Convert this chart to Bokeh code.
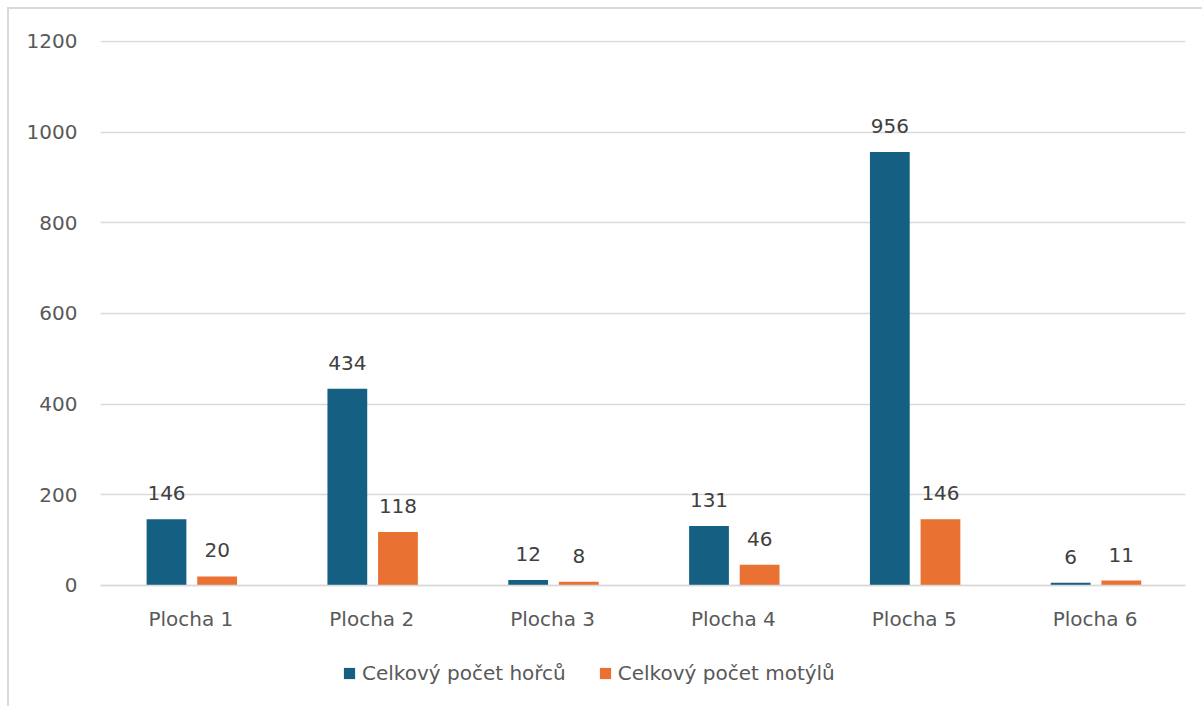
from bokeh.plotting import figure
from bokeh.models import ColumnDataSource, FactorRange, Legend, LegendItem, Range1d, FixedTicker
from bokeh.transform import dodge
from bokeh.core.properties import value
from bokeh.embed import file_html
from bokeh.resources import INLINE

categories = ["Plocha 1", "Plocha 2", "Plocha 3", "Plocha 4", "Plocha 5", "Plocha 6"]
horce = [146, 434, 12, 131, 956, 6]
motyli = [20, 118, 8, 46, 146, 11]
series_names = ["Celkový počet hořců", "Celkový počet motýlů"]
y_ticks = [0, 200, 400, 600, 800, 1000, 1200]

BLUE = "#156082"
ORANGE = "#E97132"
FONT = "DejaVu Sans"

src = ColumnDataSource(dict(
    cat=categories, horce=horce, motyli=motyli,
    lh=[str(v) for v in horce], lm=[str(v) for v in motyli],
))

# frame extends below zero so the legend can sit under the category labels
p = figure(
    x_range=FactorRange(*categories, range_padding=0),
    y_range=Range1d(-253.7, 1202.2),
    frame_width=1085, frame_height=660,
    min_border_left=91, min_border_top=31, min_border_right=30, min_border_bottom=20,
    output_backend="svg", toolbar_location=None,
)
p.styles = {"position": "absolute", "left": "7px", "top": "7px",
            "border": "2px solid #d9d9d9"}

r1 = p.vbar(x=dodge("cat", -0.135, range=p.x_range), top="horce", width=0.22,
            source=src, color=BLUE, line_color=None)
r2 = p.vbar(x=dodge("cat", 0.145, range=p.x_range), top="motyli", width=0.22,
            source=src, color=ORANGE, line_color=None)

for col, lab, off in (("horce", "lh", -0.135), ("motyli", "lm", 0.145)):
    p.text(x=dodge("cat", off, range=p.x_range), y=col, text=lab, source=src,
           text_align="center", text_baseline="middle", y_offset=-26,
           text_font_size="20px", text_color="#404040", text_font=value(FONT))

p.outline_line_color = None
p.xgrid.grid_line_color = None
p.ygrid.ticker = FixedTicker(ticks=y_ticks)
p.ygrid.grid_line_color = "#d9d9d9"
p.ygrid.grid_line_width = 1.5

p.yaxis.ticker = FixedTicker(ticks=y_ticks)
p.yaxis.axis_line_color = None
p.yaxis.major_tick_line_color = None
p.yaxis.minor_tick_line_color = None
p.yaxis.major_label_standoff = 17
p.yaxis.major_label_text_font_size = "20px"
p.yaxis.major_label_text_color = "#595959"
p.yaxis.major_label_text_font = FONT

p.xaxis.fixed_location = 0
p.xaxis.axis_line_color = "#d9d9d9"
p.xaxis.axis_line_width = 1.5
p.xaxis.major_tick_line_color = None
p.xaxis.minor_tick_line_color = None
p.xaxis.major_label_standoff = 16
p.xaxis.major_label_text_font_size = "20px"
p.xaxis.major_label_text_color = "#595959"
p.xaxis.major_label_text_font = FONT

legend = Legend(items=[LegendItem(label=series_names[0], renderers=[r1]),
                       LegendItem(label=series_names[1], renderers=[r2])],
                orientation="horizontal", location=(242, 15),
                label_text_font_size="20px", label_text_color="#595959", label_text_font=FONT,
                glyph_width=14, glyph_height=14, label_standoff=6, spacing=32,
                border_line_color=None, background_fill_alpha=0, margin=0, padding=4)
p.add_layout(legend, "center")

open("out.html", "w").write(file_html(p, INLINE))
